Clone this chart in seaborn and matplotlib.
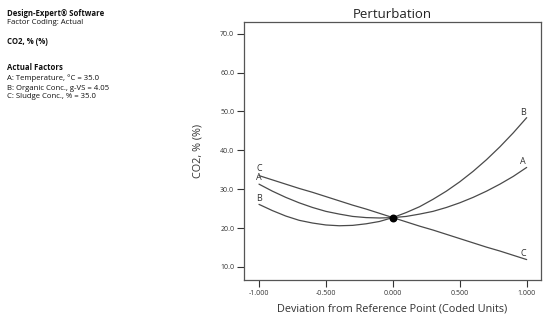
import numpy as np
import pandas as pd
import seaborn as sns
import matplotlib.pyplot as plt

# Deviation from reference point (coded units)
deviation = [-1.0, -0.9, -0.8, -0.7, -0.6, -0.5, -0.4, -0.3, -0.2, -0.1, 0.0,
             0.1, 0.2, 0.3, 0.4, 0.5, 0.6, 0.7, 0.8, 0.9, 1.0]

# CO2 %
co2_A = [31.3, 29.5, 27.9, 26.5, 25.3, 24.3, 23.6, 23.0, 22.7, 22.6, 22.7,
         23.0, 23.6, 24.3, 25.3, 26.5, 27.9, 29.5, 31.3, 33.3, 35.6]
co2_B = [26.1, 24.5, 23.1, 22.0, 21.3, 20.8, 20.6, 20.7, 21.1, 21.7, 22.7,
         24.0, 25.5, 27.4, 29.5, 31.9, 34.6, 37.6, 40.9, 44.5, 48.4]
co2_C = [33.5, 32.4, 31.3, 30.2, 29.2, 28.1, 27.0, 25.9, 24.9, 23.8, 22.7,
         21.6, 20.5, 19.5, 18.4, 17.3, 16.2, 15.1, 14.1, 13.0, 11.9]

factors = ['A', 'B', 'C']
ref_point = (0.0, 22.7)

# label anchors (x, y) for each curve end
left_labels = {'C': (-1.0, 35.3), 'A': (-1.0, 32.9), 'B': (-1.0, 27.7)}
right_labels = {'A': (0.97, 37.1), 'B': (0.97, 49.6), 'C': (0.975, 13.5)}

y_ticks = [10.0, 20.0, 30.0, 40.0, 50.0, 60.0, 70.0]
x_ticks = [-1.0, -0.5, 0.0, 0.5, 1.0]

info_lines = [
    ('Design-Expert® Software', True, 13),
    ('Factor Coding: Actual', False, 22),
    ('CO2, % (%)', True, 41),
    ('Actual Factors', True, 68),
    ('A: Temperature, °C = 35.0', False, 78),
    ('B: Organic Conc., g-VS = 4.05', False, 88),
    ('C: Sludge Conc., % = 35.0', False, 97),
]


def main():
    df = pd.DataFrame({
        'deviation': deviation * 3,
        'co2': co2_A + co2_B + co2_C,
        'factor': ['A'] * len(deviation) + ['B'] * len(deviation) + ['C'] * len(deviation),
    })

    sns.set_style('white')
    plt.rcParams['font.family'] = ['Open Sans', 'DejaVu Sans']

    W, H = 550, 327
    fig = plt.figure(figsize=(W / 100, H / 100), dpi=100)
    ax = fig.add_axes([244 / W, 1 - 280 / H, (541 - 244) / W, (280 - 22) / H])

    line_col = '#4a4a4a'
    sns.lineplot(data=df, x='deviation', y='co2', hue='factor',
                 palette={f: line_col for f in factors}, linewidth=0.9,
                 legend=False, ax=ax)
    ax.scatter([ref_point[0]], [ref_point[1]], s=22, color='black', zorder=5)

    for lbl, (x, y) in left_labels.items():
        ax.text(x, y, lbl, fontsize=6.5, ha='center', va='center', color='#333333')
    for lbl, (x, y) in right_labels.items():
        ax.text(x, y, lbl, fontsize=6.5, ha='center', va='center', color='#333333')

    ax.set_xlim(-1.112, 1.107)
    ax.set_ylim(6.65, 73.0)
    ax.set_xticks(x_ticks)
    ax.set_xticklabels([f'{v:.3f}' for v in x_ticks])
    ax.set_yticks(y_ticks)
    ax.set_yticklabels([f'{v:.1f}' for v in y_ticks])
    ax.tick_params(axis='both', direction='out', length=5, width=0.8,
                   colors='#333333', labelsize=5, pad=2,
                   bottom=True, left=True)
    for sp in ax.spines.values():
        sp.set_color('#555555')
        sp.set_linewidth(0.9)

    ax.set_title('Perturbation', fontsize=9.5, color='#222222', pad=3)
    ax.set_xlabel('Deviation from Reference Point (Coded Units)', fontsize=7.8,
                  color='#333333', labelpad=5)
    ax.set_ylabel('CO2, % (%)', fontsize=7.8, color='#333333', labelpad=12)

    for text, bold, ypx in info_lines:
        fig.text(7 / W, 1 - ypx / H, text, fontsize=5.6, ha='left', va='center',
                 fontweight='bold' if bold else 'normal', color='#111111')

    fig.savefig('out.png', dpi=100)
    plt.close(fig)


if __name__ == '__main__':
    main()
